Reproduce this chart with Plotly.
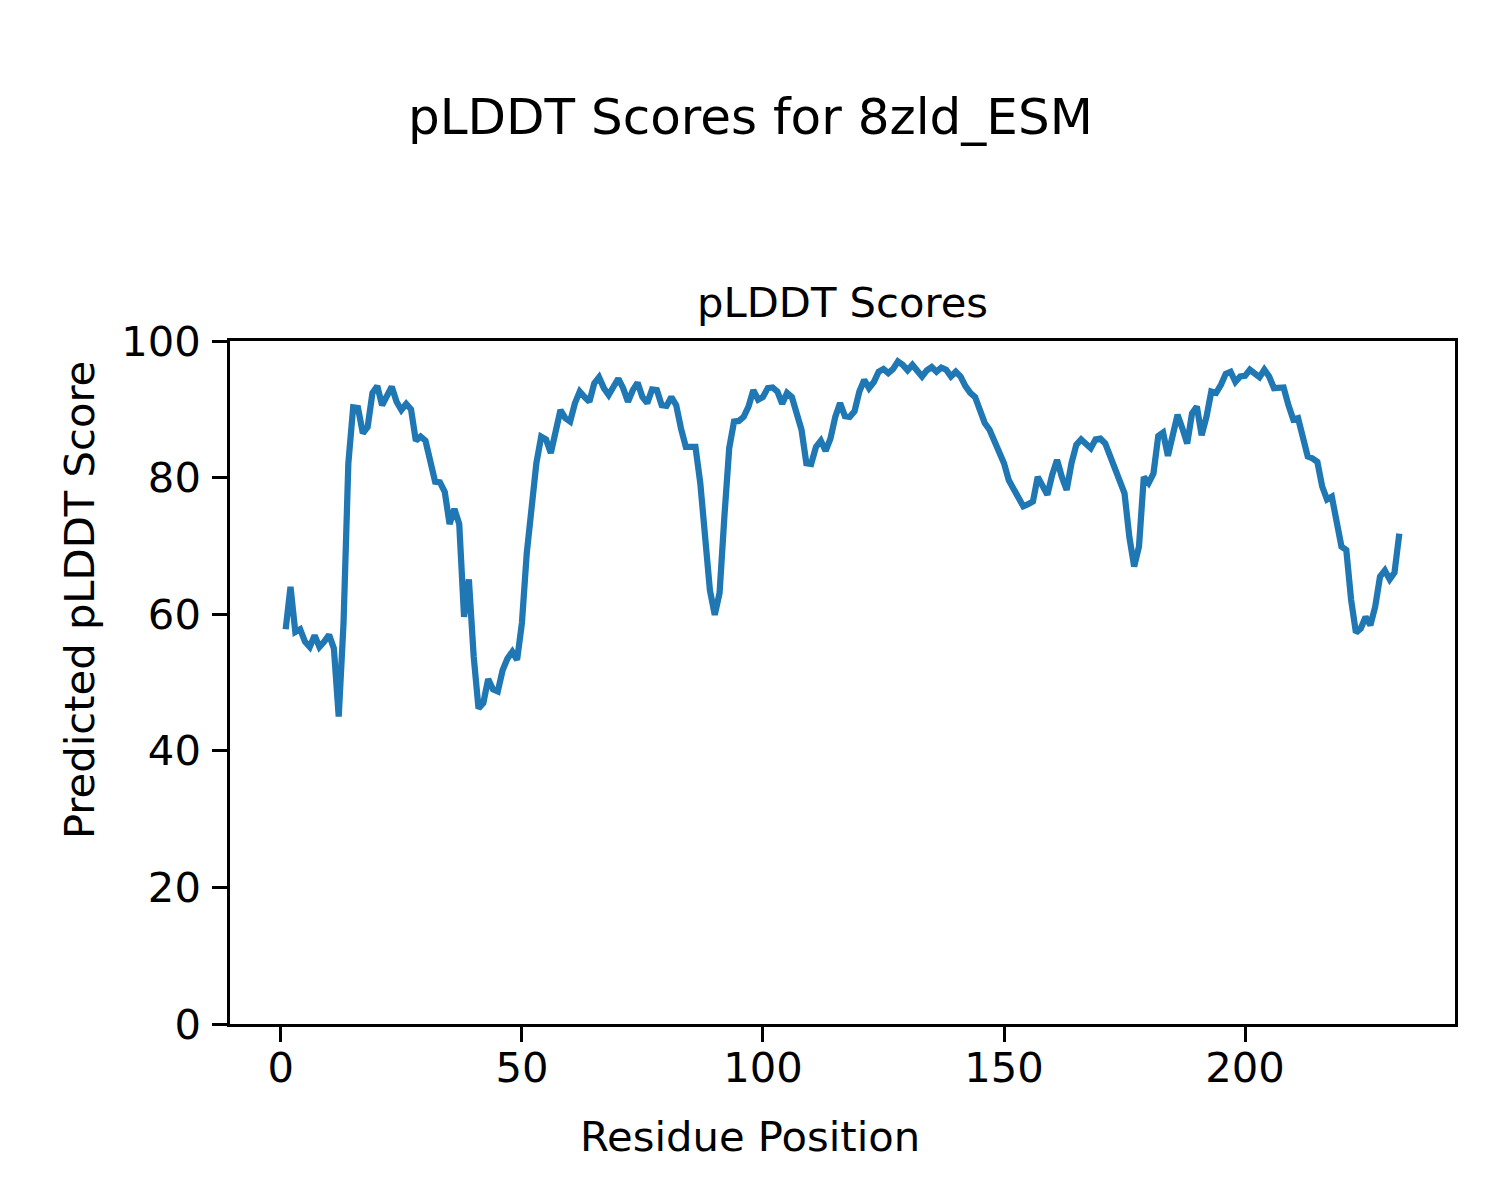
import plotly.graph_objects as go

residues = list(range(1, 233))
plddt = [
    57.8, 64.0, 57.4, 57.8, 56.0, 55.2, 56.9, 55.2, 56.0, 57.0,
    55.0, 45.0, 58.7, 82.1, 90.3, 90.2, 86.5, 87.4, 92.4, 93.4,
    90.6, 91.8, 93.3, 91.1, 89.9, 90.8, 90.0, 85.4, 86.0, 85.4,
    82.1, 79.4, 79.3, 77.9, 73.2, 75.4, 73.2, 59.6, 65.1, 53.8,
    46.2, 47.0, 50.5, 49.0, 48.7, 51.8, 53.5, 54.5, 53.3, 58.7,
    68.9, 76.5, 82.1, 86.0, 85.6, 83.6, 87.0, 89.9, 88.7, 88.2,
    90.9, 92.6, 91.8, 91.1, 93.8, 94.7, 93.1, 92.1, 93.3, 94.5,
    93.1, 91.1, 92.8, 93.9, 91.8, 90.9, 92.9, 92.8, 90.6, 90.5,
    91.8, 90.6, 87.2, 84.5, 84.5, 84.5, 79.2, 71.3, 63.5, 59.9,
    63.1, 74.3, 84.3, 88.2, 88.3, 88.9, 90.4, 92.8, 91.4, 91.8,
    93.1, 93.2, 92.6, 90.8, 92.4, 91.8, 89.2, 87.0, 82.1, 82.0,
    84.5, 85.4, 83.9, 85.7, 88.9, 90.9, 89.0, 88.9, 89.7, 92.6,
    94.3, 93.1, 94.0, 95.5, 95.9, 95.3, 95.9, 97.0, 96.5, 95.7,
    96.5, 95.7, 94.8, 95.7, 96.2, 95.5, 96.1, 95.8, 94.8, 95.5,
    94.8, 93.4, 92.4, 91.8, 89.6, 88.0, 87.0, 85.3, 83.4, 82.1,
    79.6, 78.4, 77.2, 75.8, 76.1, 76.5, 80.1, 78.9, 77.5, 80.4,
    82.6, 80.1, 78.2, 82.1, 84.8, 85.6, 84.8, 84.3, 85.6, 85.7,
    85.0, 83.1, 80.9, 79.4, 77.7, 71.3, 67.0, 69.9, 80.1, 79.2,
    80.6, 86.1, 86.6, 83.2, 86.2, 89.2, 87.2, 85.0, 89.4, 90.4,
    86.2, 88.9, 92.6, 92.4, 93.6, 95.2, 95.5, 94.0, 94.8, 94.9,
    95.8, 95.3, 94.7, 95.8, 94.8, 93.1, 93.1, 93.2, 90.6, 88.5,
    88.7, 86.2, 83.1, 82.8, 82.3, 78.7, 76.8, 77.2, 73.3, 69.9,
    69.4, 62.1, 57.3, 57.9, 59.6, 58.4, 61.1, 65.5, 66.4, 65.1,
    66.1, 71.8,
]

x_ticks = [0, 50, 100, 150, 200]
y_ticks = [0, 20, 40, 60, 80, 100]

suptitle = "pLDDT Scores for 8zld_ESM"
axes_title = "pLDDT Scores"
x_label = "Residue Position"
y_label = "Predicted pLDDT Score"

FONT = "DejaVu Sans"
small = 41.7
big = 50.0

fig = go.Figure()
fig.add_trace(go.Scatter(
    x=residues, y=plddt, mode="lines",
    line=dict(color="#1f77b4", width=6.25),
    showlegend=False, hoverinfo="x+y",
))

xmin, xmax = residues[0], residues[-1]
pad = 0.05 * (xmax - xmin)

axis_common = dict(
    showgrid=False, zeroline=False, showline=True, mirror=True,
    linecolor="black", linewidth=3.3, ticks="outside", ticklen=14.6,
    tickwidth=3.3, tickcolor="black",
    tickfont=dict(family=FONT, size=small, color="black"),
)

fig.update_layout(
    width=1500, height=1200,
    paper_bgcolor="white", plot_bgcolor="white",
    margin=dict(l=222, r=53, t=333, b=184),
    font=dict(family=FONT, color="black"),
    xaxis=dict(range=[xmin - pad, xmax + pad], tickvals=x_ticks,
               ticklabelstandoff=-10, **axis_common),
    yaxis=dict(range=[0, 100], tickvals=y_ticks,
               ticklabelstandoff=3, **axis_common),
    annotations=[
        dict(text=suptitle, xref="paper", yref="paper", x=0.4245, y=1.328,
             xanchor="center", yanchor="middle", showarrow=False,
             font=dict(family=FONT, size=big, color="black")),
        dict(text=axes_title, xref="paper", yref="paper", x=0.5, y=1.057,
             xanchor="center", yanchor="middle", showarrow=False,
             font=dict(family=FONT, size=small, color="black")),
        dict(text=x_label, xref="paper", yref="paper", x=0.4245, y=-0.1654,
             xanchor="center", yanchor="middle", showarrow=False,
             font=dict(family=FONT, size=small, color="black")),
        dict(text=y_label, xref="paper", yref="paper", x=-0.1224, y=0.6208,
             xanchor="center", yanchor="middle", showarrow=False, textangle=-90,
             font=dict(family=FONT, size=small, color="black")),
    ],
)

fig.write_html("out.html")
